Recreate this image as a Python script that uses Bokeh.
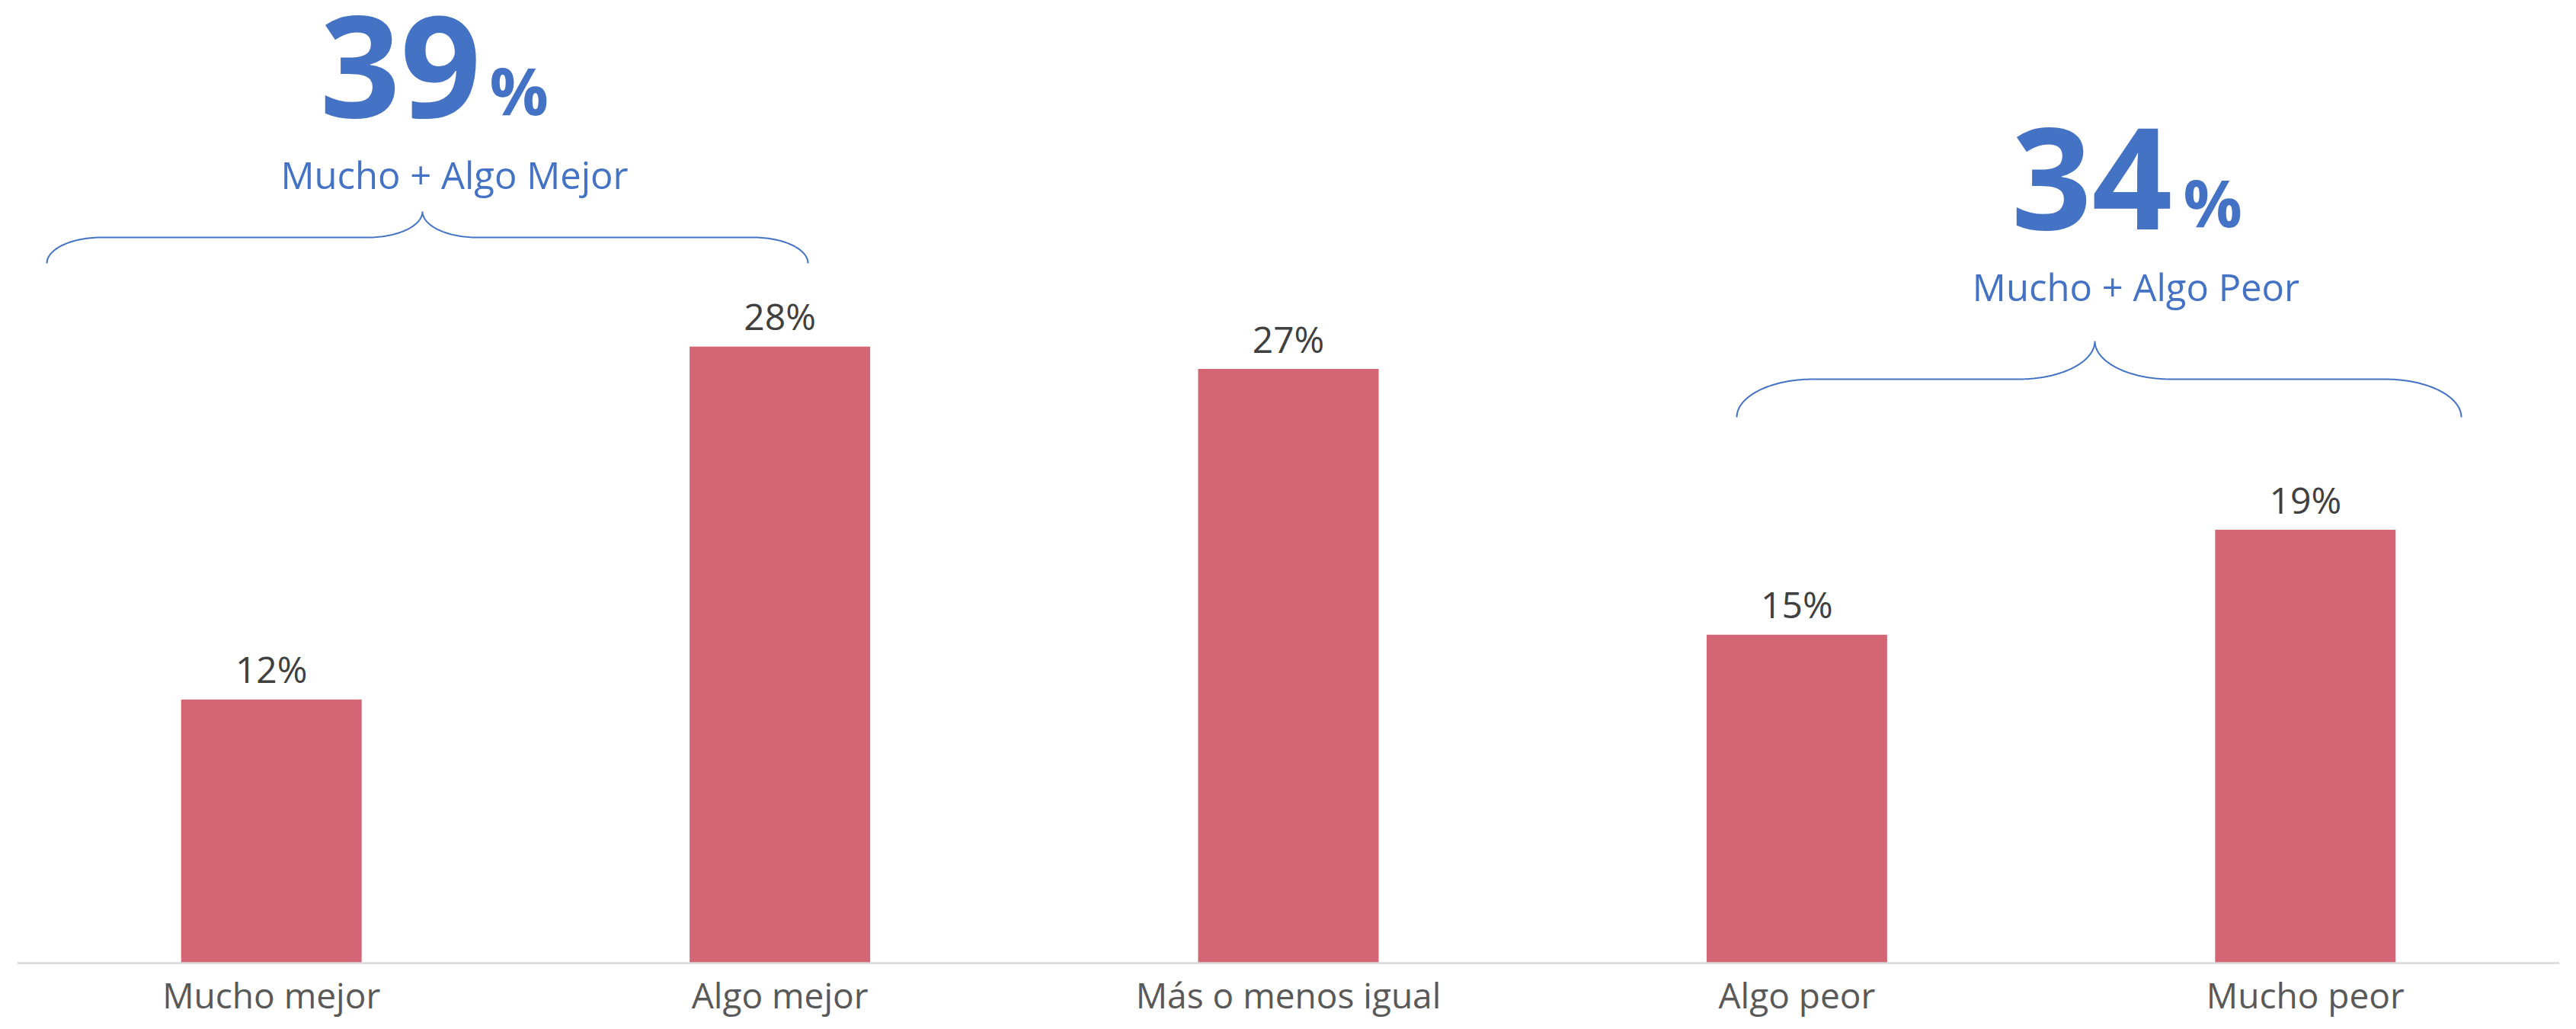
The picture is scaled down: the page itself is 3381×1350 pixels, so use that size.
import numpy as np
from bokeh.plotting import figure
from bokeh.models import ColumnDataSource, FactorRange, Range1d, Span
from bokeh.core.properties import value
from bokeh.embed import file_html
from bokeh.resources import INLINE

# ---------------- data ----------------
categories = ["Mucho mejor", "Algo mejor", "Más o menos igual", "Algo peor", "Mucho peor"]
values = [11.8, 27.6, 26.6, 14.7, 19.4]
value_labels = ["12%", "28%", "27%", "15%", "19%"]
group_totals = ["39", "34"]
group_names = ["Mucho + Algo Mejor", "Mucho + Algo Peor"]

# ---------------- layout helpers (page pixels -> data units) ----------------
FRAME_L = 22.0        # page x of left frame edge
UNIT_PX = 667.4       # pixels per category
ZERO_Y = 1263.0       # page y of the baseline
PX_PER_PCT = 29.3     # pixels per percentage point
TOP, BOTTOM = 0.0, 1342.0
K = 0.29              # baseline correction (fraction of font size)

def dx(px):
    return (px - FRAME_L) / UNIT_PX

def dy(py):
    return (ZERO_Y - py) / PX_PER_PCT

def ty(baseline, size):
    return dy(baseline - K * size)

BLUE = "#4472C4"
FONT = value("Open Sans")

p = figure(
    width=3373, height=1342,
    x_range=FactorRange(factors=categories, range_padding=0),
    y_range=Range1d(dy(BOTTOM), dy(TOP)),
    output_backend="svg", toolbar_location=None,
    x_axis_location=None, y_axis_location=None,
    min_border_left=22, min_border_right=14, min_border_top=0, min_border_bottom=0,
    background_fill_color="white", border_fill_color="white",
)
p.outline_line_color = None
p.grid.grid_line_color = None

# baseline
p.add_layout(Span(location=0, dimension="width", line_color="#D9D9D9", line_width=2.5))

src = ColumnDataSource(dict(cat=categories, val=values, lab=value_labels, zero=[0] * len(categories)))

p.vbar(x="cat", top="val", width=0.355, source=src, fill_color="#D46574", line_color=None)

# value labels
p.text(x="cat", y="val", text="lab", source=src, y_offset=-(26 + K * 48),
       text_align="center", text_baseline="alphabetic",
       text_font=FONT, text_font_size="48px", text_color="#404040")

# category labels
p.text(x="cat", y="zero", text="cat", source=src, y_offset=(1318 - ZERO_Y) - K * 46,
       text_align="center", text_baseline="alphabetic",
       text_font=FONT, text_font_size="46px", text_color="#595959")

# big totals
NUM, PCT, NAME = 185, 86, 49
tot_src = ColumnDataSource(dict(
    x=[dx(525), dx(2745)], y=[ty(141, NUM), ty(288, NUM)], t=group_totals,
    px=[dx(642), dx(2865)], py=[ty(142, PCT), ty(289, PCT)], pct=["%", "%"],
    nx=[dx(596), dx(2803)], ny=[ty(243, NAME), ty(390, NAME)], n=group_names,
))
p.text(x="x", y="y", text="t", source=tot_src, text_align="center", text_baseline="alphabetic",
       text_font=FONT, text_font_style="bold", text_font_size=f"{NUM}px", text_color=BLUE)
p.text(x="px", y="py", text="pct", source=tot_src, text_align="left", text_baseline="alphabetic",
       text_font=FONT, text_font_style="bold", text_font_size=f"{PCT}px", text_color=BLUE)
p.text(x="nx", y="ny", text="n", source=tot_src, text_align="center", text_baseline="alphabetic",
       text_font=FONT, text_font_size=f"{NAME}px", text_color=BLUE)

# curly braces
def brace(x0, x1, xt, y_end, y_line, y_tip, rx, ry, n=40):
    xs, ys = [], []
    def arc(cx, cy, a0, a1):
        t = np.radians(np.linspace(a0, a1, n))
        xs.extend(cx + rx * np.cos(t))
        ys.extend(cy + ry * np.sin(t))
    arc(x0 + rx, y_line + ry, 180, 270)
    arc(xt - rx, y_tip, 90, 0)
    arc(xt + rx, y_tip, 180, 90)
    arc(x1 - rx, y_line + ry, 270, 360)
    return [dx(v) for v in xs], [dy(v) for v in ys]

bx, by = brace(61, 1060, 554, 346, 311, 277, 72, 34)
p.line(bx, by, line_color=BLUE, line_width=2)
bx, by = brace(2279, 3230, 2749, 547, 497, 447, 100, 50)
p.line(bx, by, line_color=BLUE, line_width=2)

open("out.html", "w").write(file_html(p, INLINE))
